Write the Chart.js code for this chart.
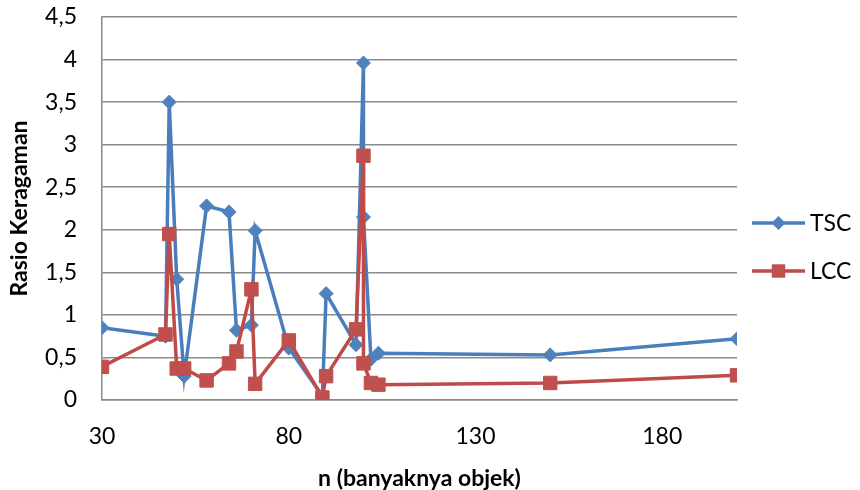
<!DOCTYPE html>
<html>
<head>
<meta charset="utf-8">
<script src="https://cdn.jsdelivr.net/npm/chart.js"></script>
<style>
  body { margin: 0; background: #fff; }
</style>
</head>
<body>
<canvas id="chart" width="860" height="490"></canvas>
<script>
// data
const nObjek = [30, 47, 48, 50, 52, 58, 64, 66, 70, 71, 80, 89, 90, 98, 100, 100, 102, 104, 150, 200];
const tsc = [0.85, 0.75, 3.5, 1.42, 0.28, 2.28, 2.21, 0.82, 0.88, 1.99, 0.61, 0.05, 1.25, 0.65, 3.96, 2.15, 0.48, 0.55, 0.53, 0.72];
const lcc = [0.39, 0.77, 1.95, 0.37, 0.37, 0.23, 0.43, 0.57, 1.30, 0.19, 0.70, 0.03, 0.28, 0.83, 2.87, 0.43, 0.20, 0.18, 0.20, 0.29];
const xTicks = [30, 80, 130, 180];
const seriesNames = ["TSC", "LCC"];

const fontFam = "Lato, 'Open Sans', sans-serif";
const gridColor = "#8a8a8a";

const toPoints = (ys) => nObjek.map((x, i) => ({ x: x, y: ys[i] }));

// legend drawn like excel: line with marker through it
const excelLegend = {
  id: "excelLegend",
  afterDraw(chart) {
    const ctx = chart.ctx;
    const x0 = chart.chartArea.right + 15;
    chart.data.datasets.forEach((ds, i) => {
      const y = 223 + i * 48;
      ctx.save();
      ctx.strokeStyle = ds.borderColor;
      ctx.lineWidth = 3.5;
      ctx.beginPath();
      ctx.moveTo(x0, y);
      ctx.lineTo(x0 + 53, y);
      ctx.stroke();
      ctx.fillStyle = ds.pointBackgroundColor;
      const cx = x0 + 26.5;
      ctx.beginPath();
      if (ds.pointStyle === "rectRot") {
        const r = ds.pointRadius;
        ctx.moveTo(cx - r, y); ctx.lineTo(cx, y - r); ctx.lineTo(cx + r, y); ctx.lineTo(cx, y + r);
        ctx.closePath();
      } else {
        const s = ds.pointRadius * Math.SQRT1_2;
        ctx.rect(cx - s, y - s, 2 * s, 2 * s);
      }
      ctx.fill();
      ctx.fillStyle = "#000";
      ctx.font = "23px " + fontFam;
      ctx.textBaseline = "middle";
      ctx.fillText(seriesNames[i], x0 + 58, y + 1);
      ctx.restore();
    });
  }
};

new Chart(document.getElementById("chart"), {
  type: "scatter",
  data: {
    datasets: [
      {
        label: seriesNames[0],
        data: toPoints(tsc),
        showLine: true,
        borderColor: "#4A7EBB",
        borderWidth: 3.5,
        pointStyle: "rectRot",
        pointRadius: 7,
        pointBackgroundColor: "#4F81BD",
        pointBorderColor: "#4F81BD",
        pointBorderWidth: 1,
        order: 2
      },
      {
        label: seriesNames[1],
        data: toPoints(lcc),
        showLine: true,
        borderColor: "#BE4B48",
        borderWidth: 3.5,
        pointStyle: "rect",
        pointRadius: 9.5,
        pointBackgroundColor: "#C0504D",
        pointBorderColor: "#C0504D",
        pointBorderWidth: 1,
        order: 1
      }
    ]
  },
  options: {
    responsive: false,
    animation: false,
    events: [],
    layout: { padding: { top: 17, right: 123, bottom: 0, left: 0 } },
    plugins: { legend: { display: false }, tooltip: { enabled: false } },
    scales: {
      x: {
        type: "linear",
        min: 30,
        max: 200,
        afterBuildTicks: (scale) => { scale.ticks = xTicks.map(v => ({ value: v })); },
        afterFit: (scale) => { scale.height = 90; },
        grid: { display: false, drawTicks: false },
        border: { display: true, color: gridColor, width: 1.5 },
        ticks: { color: "#000", font: { family: fontFam, size: 23 }, padding: 23, maxRotation: 0 },
        title: {
          display: true,
          text: "n (banyaknya objek)",
          color: "#000",
          font: { family: fontFam, size: 23, weight: "bold" },
          padding: { top: 0, bottom: -2 }
        }
      },
      y: {
        min: 0,
        max: 4.5,
        afterFit: (scale) => { scale.width = 102; scale.paddingTop = 0; scale.paddingBottom = 0; },
        grid: { color: gridColor, lineWidth: 1.5, drawTicks: false },
        border: { display: true, color: gridColor, width: 1.5 },
        ticks: {
          stepSize: 0.5,
          color: "#000",
          font: { family: fontFam, size: 23 },
          padding: 25,
          callback: (v) => String(v).replace(".", ",")
        },
        title: {
          display: true,
          text: "Rasio Keragaman",
          color: "#000",
          font: { family: fontFam, size: 23, weight: "bold" },
          padding: { top: 6, bottom: 0 }
        }
      }
    }
  },
  plugins: [excelLegend]
});
</script>
</body>
</html>
